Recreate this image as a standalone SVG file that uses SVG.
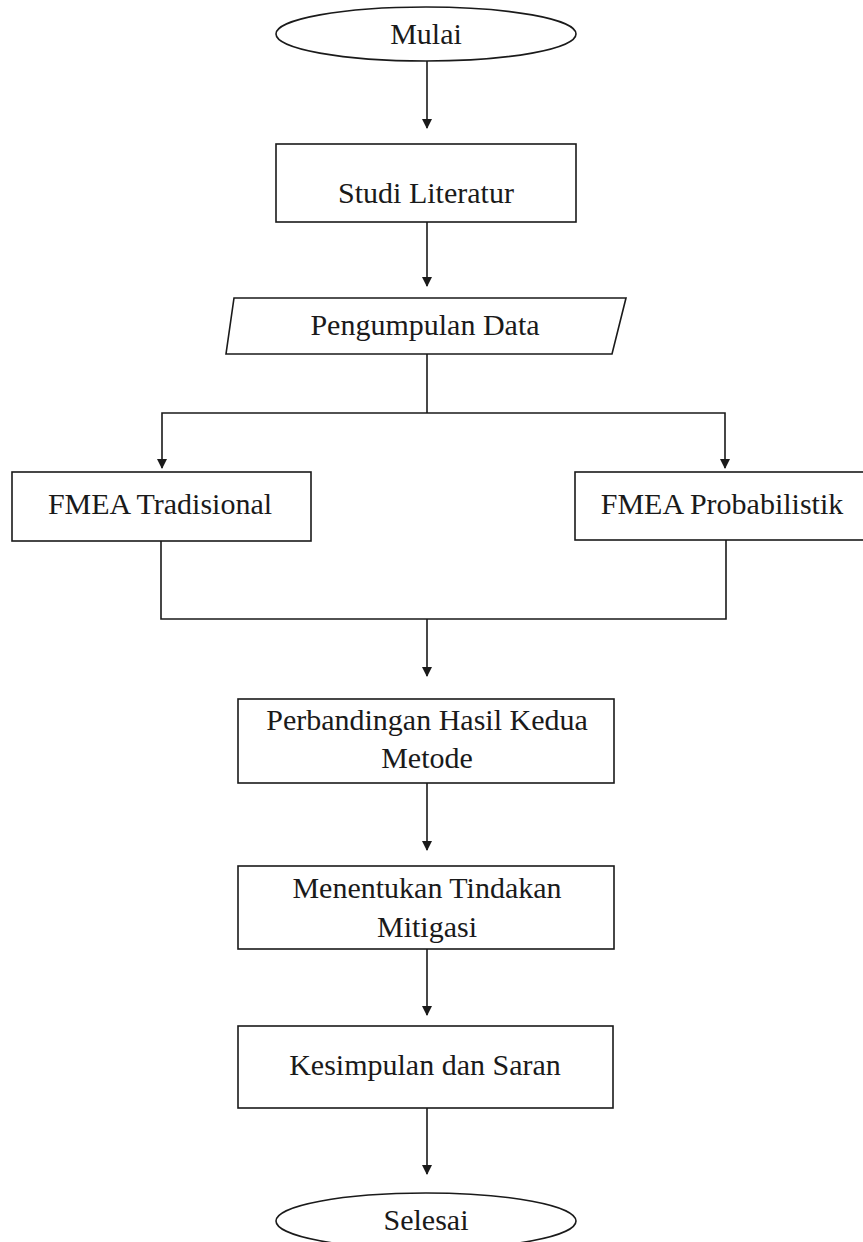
<svg xmlns="http://www.w3.org/2000/svg" width="863" height="1242" viewBox="0 0 863 1242">
<style>
.shape{fill:#fff;stroke:#1a1a1a;stroke-width:1.6}
.conn{fill:none;stroke:#1a1a1a;stroke-width:1.6}
.lbl{font-family:"Liberation Serif","Times New Roman",serif;font-size:30px;fill:#1a1a1a;text-anchor:middle}
</style>
<defs>
<marker id="ah" markerUnits="userSpaceOnUse" markerWidth="10" markerHeight="12" refX="9" refY="5" orient="auto">
<path d="M0,0 L10,5 L0,10 z" fill="#1a1a1a"/>
</marker>
</defs>
<rect width="863" height="1242" fill="#fff"/>
<g id="connectors">
<line class="conn" x1="427" y1="61" x2="427" y2="128" marker-end="url(#ah)"/>
<line class="conn" x1="427" y1="222" x2="427" y2="286" marker-end="url(#ah)"/>
<polyline class="conn" points="427,354 427,413"/>
<polyline class="conn" points="427,413 162,413 162,468" marker-end="url(#ah)"/>
<polyline class="conn" points="427,413 725,413 725,468" marker-end="url(#ah)"/>
<polyline class="conn" points="161,541 161,619 726,619 726,540"/>
<line class="conn" x1="427" y1="619" x2="427" y2="676" marker-end="url(#ah)"/>
<line class="conn" x1="427" y1="783" x2="427" y2="850" marker-end="url(#ah)"/>
<line class="conn" x1="427" y1="949" x2="427" y2="1015" marker-end="url(#ah)"/>
<line class="conn" x1="427" y1="1108" x2="427" y2="1174" marker-end="url(#ah)"/>
</g>
<g id="mulai">
<ellipse class="shape" cx="426" cy="34" rx="150" ry="27"/>
<text class="lbl" x="426" y="44">Mulai</text>
</g>
<g id="studi-literatur">
<rect class="shape" x="276" y="144" width="300" height="78"/>
<text class="lbl" x="426" y="203">Studi Literatur</text>
</g>
<g id="pengumpulan-data">
<polygon class="shape" points="234,298 626,298 612,354 226,354"/>
<text class="lbl" x="425" y="335">Pengumpulan Data</text>
</g>
<g id="fmea-tradisional">
<rect class="shape" x="12" y="472" width="299" height="69"/>
<text class="lbl" x="160" y="514">FMEA Tradisional</text>
</g>
<g id="fmea-probabilistik">
<rect class="shape" x="575" y="472" width="292" height="68"/>
<text class="lbl" x="722" y="514">FMEA Probabilistik</text>
</g>
<g id="perbandingan">
<rect class="shape" x="238" y="699" width="376" height="84"/>
<text class="lbl" x="427" y="730">Perbandingan Hasil Kedua</text>
<text class="lbl" x="427" y="768">Metode</text>
</g>
<g id="mitigasi">
<rect class="shape" x="238" y="866" width="376" height="83"/>
<text class="lbl" x="427" y="898">Menentukan Tindakan</text>
<text class="lbl" x="427" y="937">Mitigasi</text>
</g>
<g id="kesimpulan">
<rect class="shape" x="238" y="1026" width="375" height="82"/>
<text class="lbl" x="425" y="1075">Kesimpulan dan Saran</text>
</g>
<g id="selesai">
<ellipse class="shape" cx="426" cy="1221" rx="150" ry="28"/>
<text class="lbl" x="426" y="1230">Selesai</text>
</g>
</svg>
